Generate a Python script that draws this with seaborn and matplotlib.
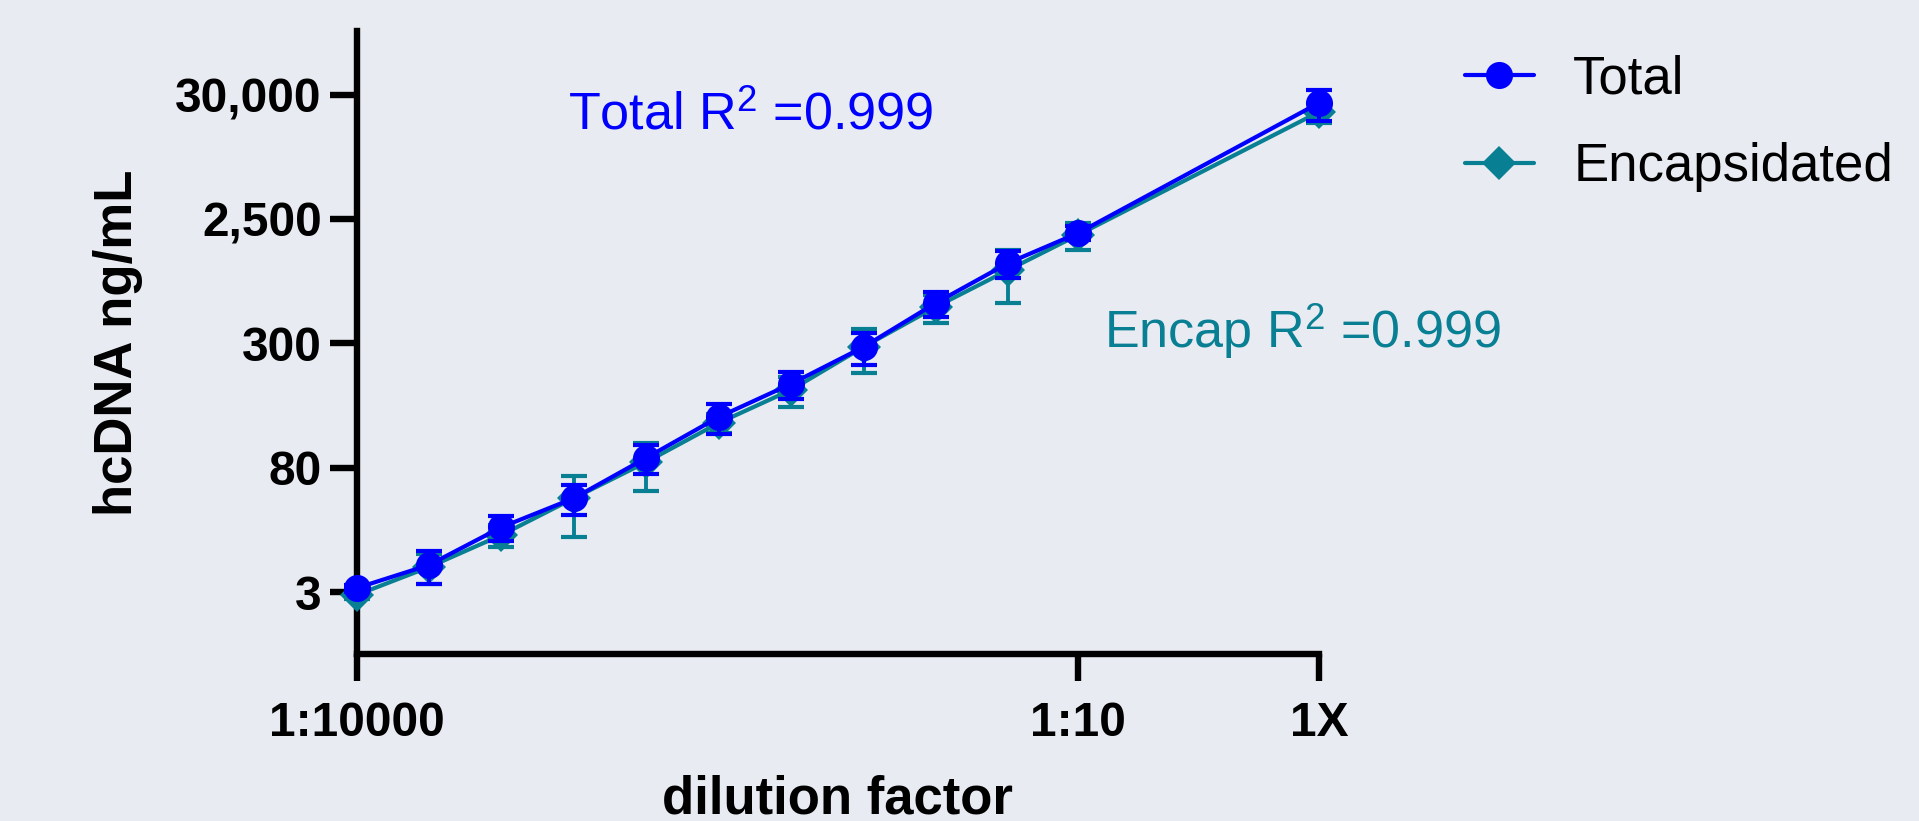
# hcDNA dilution linearity: Total vs Encapsidated, log-log with error bars
import numpy as np
import pandas as pd
import matplotlib
matplotlib.use("Agg")
import matplotlib.pyplot as plt
import seaborn as sns

# dilution series (fraction of neat sample)
dilution = [0.0001, 0.0002, 0.0004, 0.0008, 0.0016, 0.0032, 0.0064, 0.0128, 0.0256, 0.0512, 0.1, 1.0]

total_mean = [3.24, 4.97, 10.0, 17.1, 36.1, 76.8, 142, 281, 635, 1331, 2318, 25700]
total_sd = [0.2, 1.5, 2.2, 4.6, 9.3, 20.6, 35, 81, 143, 330, 300, 7200]
encap_mean = [2.85, 4.78, 8.65, 17.1, 33.4, 68.8, 127, 281, 590, 1169, 2240, 21730]
encap_sd = [0.2, 1.3, 1.7, 8.7, 13.8, 12, 34, 108, 150, 535, 540, 4000]

x_ticks = [0.0001, 0.1, 1.0]
x_tick_labels = ["1:10000", "1:10", "1X"]
y_ticks = [3, 30, 300, 3000, 30000]
y_tick_labels = ["3", "80", "300", "2,500", "30,000"]

BG = "#E8EBF2"
BLUE = "#0000FF"
TEAL = "#087F93"

sns.set_theme(style="dark")
plt.rcParams["font.family"] = ["Liberation Sans", "DejaVu Sans"]
plt.rcParams["mathtext.fontset"] = "custom"
plt.rcParams["mathtext.rm"] = "Liberation Sans"
plt.rcParams["mathtext.it"] = "Liberation Sans:italic"
plt.rcParams["mathtext.bf"] = "Liberation Sans:bold"

df = pd.DataFrame({
    "dilution": dilution * 2,
    "conc": total_mean + encap_mean,
    "sd": total_sd + encap_sd,
    "sample": ["Total"] * len(dilution) + ["Encapsidated"] * len(dilution),
})
tot = df[df["sample"] == "Total"]
enc = df[df["sample"] == "Encapsidated"]

fig = plt.figure(figsize=(19.19, 8.21), dpi=100, facecolor=BG)
ax = fig.add_axes([0.1858, 0.2034, 0.5015, 0.7588])
ax.set_facecolor(BG)

# encapsidated first so total sits on top
ax.errorbar(enc["dilution"], enc["conc"], yerr=enc["sd"], fmt="none", ecolor=TEAL,
            elinewidth=2.8, capsize=9.5, capthick=3, zorder=2, clip_on=False)
sns.lineplot(data=enc, x="dilution", y="conc", ax=ax, color=TEAL, marker="D",
             markersize=17, markeredgewidth=0, linewidth=3, zorder=3, clip_on=False,
             label="Encapsidated", legend=False)
ax.errorbar(tot["dilution"], tot["conc"], yerr=tot["sd"], fmt="none", ecolor=BLUE,
            elinewidth=2.8, capsize=9.5, capthick=3, zorder=4, clip_on=False)
sns.lineplot(data=tot, x="dilution", y="conc", ax=ax, color=BLUE, marker="o",
             markersize=19.5, markeredgewidth=0, linewidth=3, zorder=5, clip_on=False,
             label="Total", legend=False)

ax.set_xscale("log")
ax.set_yscale("log")
ax.set_xlim(1e-4, 1)
ax.set_ylim(0.957, 97300)
ax.set_xticks(x_ticks)
ax.set_xticklabels(x_tick_labels, fontweight="bold")
ax.set_yticks(y_ticks)
ax.set_yticklabels(y_tick_labels, fontweight="bold")
ax.minorticks_off()

for s in ["top", "right"]:
    ax.spines[s].set_visible(False)
for s in ["left", "bottom"]:
    ax.spines[s].set_visible(True)
    ax.spines[s].set_color("black")
    ax.spines[s].set_linewidth(4.6)
ax.tick_params(axis="both", which="major", bottom=True, left=True, length=19.5,
               width=4.6, color="black", labelsize=34.5, labelcolor="black")
ax.tick_params(axis="x", pad=14)
ax.tick_params(axis="y", pad=5.5)
ax.grid(False)

ax.set_xlabel("dilution factor", fontsize=38, fontweight="bold", color="black", labelpad=21)
ax.set_ylabel("hcDNA ng/mL", fontsize=38, fontweight="bold", color="black", labelpad=23)

ax.text(0.220, 0.842, r"Total R$^{\mathrm{2}}$ =0.999", transform=ax.transAxes,
        color=BLUE, fontsize=37.5, ha="left", va="baseline")
ax.text(0.777, 0.491, r"Encap R$^{\mathrm{2}}$ =0.999", transform=ax.transAxes,
        color=TEAL, fontsize=37.5, ha="left", va="baseline")

handles, labels = ax.get_legend_handles_labels()
order = [labels.index("Total"), labels.index("Encapsidated")]
leg = fig.legend([handles[i] for i in order], [labels[i] for i in order],
                 loc="center left", bbox_to_anchor=(1465 / 1919, 1 - 123 / 821),
                 bbox_transform=fig.transFigure, frameon=False, fontsize=38,
                 handlelength=1.3, handletextpad=0.75, labelspacing=0.72,
                 borderpad=0, borderaxespad=0)
for t in leg.get_texts():
    t.set_color("black")

fig.savefig("out.png", dpi=100, facecolor=BG)
